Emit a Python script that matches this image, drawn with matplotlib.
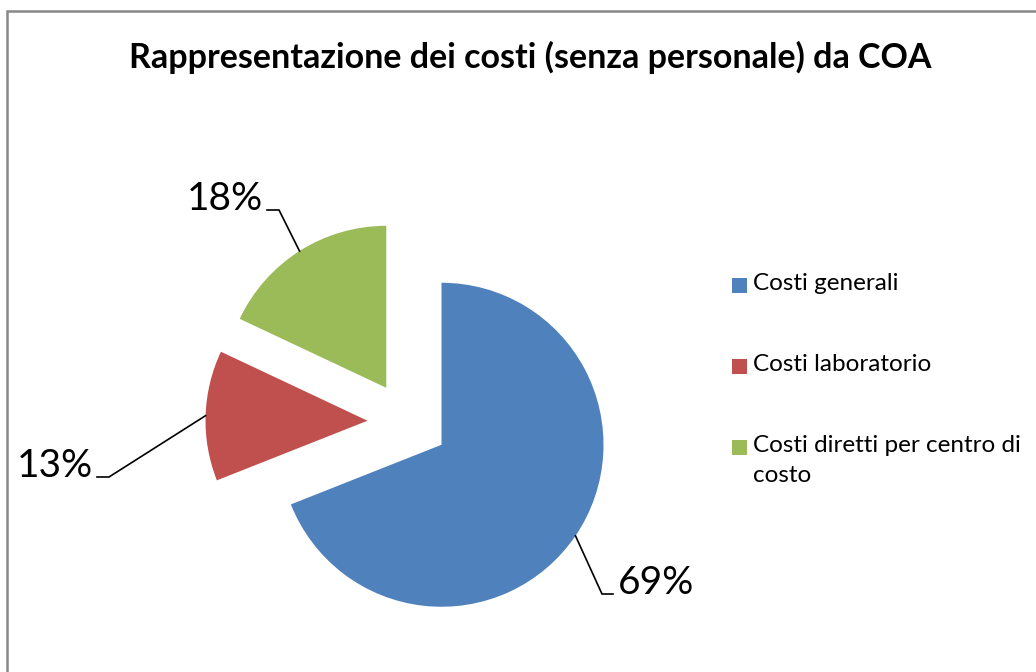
import numpy as np
import matplotlib
matplotlib.use('Agg')
from matplotlib import pyplot as plt
from matplotlib.patches import Rectangle

plt.rcParams['font.family'] = ['Lato', 'DejaVu Sans']

# dati
categorie = ['Costi generali', 'Costi laboratorio', 'Costi diretti per centro di\ncosto']
valori = [69, 13, 18]
etichette = ['69%', '13%', '18%']
colori = ['#4F81BD', '#C0504D', '#9BBB59']

W, H = 1036, 672
CX, CY, R = 408, 422, 162   # centro e raggio della torta in pixel

def px(x, y):
    # pixel immagine -> coordinate dati (raggio = 1)
    return (x - CX) / R, (CY - y) / R

fig = plt.figure(figsize=(W / 100, H / 100), dpi=100)
ax = fig.add_axes([0, 0, 1, 1])

wedges, _ = ax.pie(valori, colors=colori, startangle=90, counterclock=False,
                   explode=[0.25, 0.25, 0.25], radius=1,
                   wedgeprops=dict(linewidth=0))

ax.set_xlim(px(0, 0)[0], px(W, 0)[0])
ax.set_ylim(px(0, H)[1], px(0, 0)[1])
ax.set_aspect('auto')
ax.axis('off')

# etichette con linee guida
gomito = [(602, 594), (109, 477), (279, 210)]
fine = [(613, 594), (97, 477), (267, 210)]
for w, lab, g, f in zip(wedges, etichette, gomito, fine):
    tm = np.radians((w.theta1 + w.theta2) / 2)
    ax0 = w.center[0] + w.r * np.cos(tm)
    ay0 = w.center[1] + w.r * np.sin(tm)
    gx, gy = px(*g)
    fx, fy = px(*f)
    ax.plot([ax0, gx, fx], [ay0, gy, fy], color='black', lw=1.2,
            solid_joinstyle='miter')
    if fx > gx:
        ax.text(fx + 5 / R, fy, lab, ha='left', va='baseline', fontsize=28)
    else:
        ax.text(fx - 4 / R, fy, lab, ha='right', va='baseline', fontsize=28)

# titolo
fig.text(530 / W, 1 - 57 / H, 'Rappresentazione dei costi (senza personale) da COA',
         ha='center', va='center', fontsize=24.5, fontweight='bold')

# legenda
righe = [285, 366, 447]
for c, testo, y in zip(colori, categorie, righe):
    fig.patches.append(Rectangle((732 / W, 1 - (y + 7.5) / H), 15 / W, 15 / H,
                                 transform=fig.transFigure, facecolor=c,
                                 edgecolor='none'))
    fig.text(753 / W, 1 - (y - 12) / H, testo, ha='left', va='top',
             fontsize=17.5, linespacing=1.5)

# cornice
fig.patches.append(Rectangle((6.5 / W, -0.05), 1.1, 1 - 10.5 / H + 0.05,
                             transform=fig.transFigure, fill=False,
                             edgecolor='#888888', lw=1.8))

fig.savefig('out.png', dpi=100)
